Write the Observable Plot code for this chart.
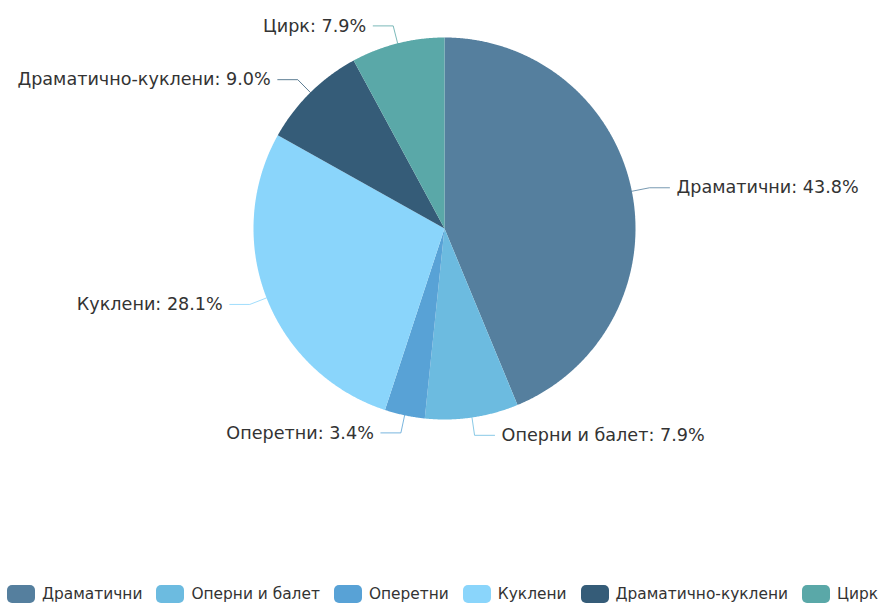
<!DOCTYPE html>
<html><head><meta charset="utf-8">
<script src="https://cdn.jsdelivr.net/npm/d3@7"></script>
<script src="https://cdn.jsdelivr.net/npm/@observablehq/plot@0.6"></script>
<style>
body{margin:0;background:#fff;font-family:"DejaVu Sans",sans-serif}
#legend{display:flex;justify-content:center;align-items:center;height:48px;font-size:15.4px;color:#333;white-space:nowrap}
.item{display:flex;align-items:center;margin:0 7px}
.sw{width:28px;height:18px;border-radius:5px;margin-right:7px}
</style>
</head><body><div id="chart"></div><div id="legend"></div><script>
const categories = ["Драматични","Оперни и балет","Оперетни","Куклени","Драматично-куклени","Цирк"];
const values = [43.8, 7.9, 3.4, 28.1, 9.0, 7.9];
const colors = ["#557f9e","#6cbbe0","#58a2d6","#8ad5fb","#355c78","#5aa8a8"];

const W = 885, H = 570, cx = 444, cy = 228, R = 191;
const L1 = 18, L2 = 20;

const arcs = d3.pie().sort(null).value(d => d.value)(categories.map((c, i) => ({category: c, value: values[i]})));

const slicePts = [];
const leaderPts = [];
const labels = [];
arcs.forEach(p => {
  const c = p.data.category;
  const n = Math.max(2, Math.ceil((p.endAngle - p.startAngle) / 0.005));
  slicePts.push({category: c, x: 0, y: 0});
  for (let k = 0; k <= n; k++) {
    const a = p.startAngle + (p.endAngle - p.startAngle) * k / n;
    slicePts.push({category: c, x: Math.sin(a), y: Math.cos(a)});
  }
  const m = (p.startAngle + p.endAngle) / 2;
  const s = Math.sin(m), co = Math.cos(m);
  const side = s >= 0 ? 1 : -1;
  const k1 = 1 + L1 / R;
  const x2 = k1 * s + side * L2 / R, y2 = k1 * co;
  leaderPts.push({category: c, x: s, y: co});
  leaderPts.push({category: c, x: k1 * s, y: k1 * co});
  leaderPts.push({category: c, x: x2, y: y2});
  labels.push({category: c, x: x2, y: y2, side, text: `${c}: ${p.data.value.toFixed(1)}%`});
});

const chart = Plot.plot({
  width: W, height: H, margin: 0,
  x: {domain: [-1, 1], range: [cx - R, cx + R], axis: null},
  y: {domain: [-1, 1], range: [cy + R, cy - R], axis: null},
  color: {domain: categories, range: colors},
  style: {fontFamily: "DejaVu Sans, sans-serif", background: "#fff"},
  marks: [
    Plot.line(slicePts, {x: "x", y: "y", z: "category", fill: "category", stroke: "none"}),
    Plot.line(leaderPts, {x: "x", y: "y", z: "category", stroke: "category", strokeWidth: 1, strokeOpacity: 0.8}),
    Plot.text(labels.filter(d => d.side > 0), {x: "x", y: "y", text: "text", dx: 7, textAnchor: "start", fontSize: 17.6, fill: "#333"}),
    Plot.text(labels.filter(d => d.side < 0), {x: "x", y: "y", text: "text", dx: -7, textAnchor: "end", fontSize: 17.6, fill: "#333"})
  ]
});
document.getElementById("chart").appendChild(chart);

const legend = d3.select("#legend");
categories.forEach((c, i) => {
  const it = legend.append("div").attr("class", "item");
  it.append("div").attr("class", "sw").style("background", colors[i]);
  it.append("span").text(c);
});
</script></body></html>
